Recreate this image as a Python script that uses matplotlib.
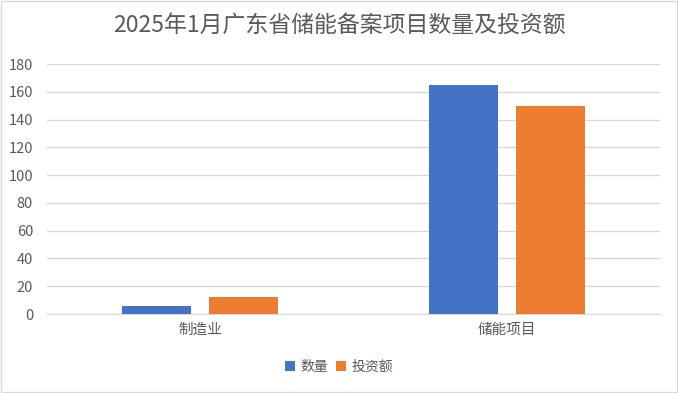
import matplotlib.pyplot as plt
from matplotlib.patches import Rectangle
import numpy as np

plt.rcParams['font.family'] = ['Noto Sans CJK SC', 'DejaVu Sans']

categories = ['制造业', '储能项目']
count = [6, 165]
invest = [12, 150]
series_names = ['数量', '投资额']

blue = '#4472C4'
orange = '#ED7D31'
text_color = '#595959'
grid_color = '#D9D9D9'

fig = plt.figure(figsize=(6.78, 3.93), dpi=100)
fig.patches.append(Rectangle((0.002, 0.002), 0.996, 0.996, transform=fig.transFigure,
                             fill=False, edgecolor='#D9D9D9', linewidth=1))

ax = fig.add_axes([47 / 678, (393 - 314) / 393, (660 - 47) / 678, 250 / 393])

x = np.arange(len(categories))
w = 0.225
off = 0.142
ax.bar(x - off, count, width=w, color=blue, label=series_names[0], zorder=3)
ax.bar(x + off, invest, width=w, color=orange, label=series_names[1], zorder=3)

ax.set_xlim(-0.5, 1.5)
ax.set_ylim(0, 180)
ax.set_yticks(np.arange(0, 181, 20))
ax.set_xticks(x)
ax.set_xticklabels(categories)
ax.yaxis.grid(True, color=grid_color, linewidth=1, zorder=0)
for s in ['top', 'right', 'left']:
    ax.spines[s].set_visible(False)
ax.spines['bottom'].set_color(grid_color)
ax.tick_params(axis='both', length=0, colors=text_color, labelsize=10.5)
ax.tick_params(axis='y', pad=10)
ax.tick_params(axis='x', pad=6)

fig.text(0.5, 0.935, '2025年1月广东省储能备案项目数量及投资额', ha='center', va='center',
         fontsize=16.5, color=text_color)

fig.legend(loc='center', bbox_to_anchor=(0.5, (393 - 367) / 393), ncol=2, frameon=False,
           fontsize=10, labelcolor=text_color, handlelength=0.7, handleheight=0.7,
           handletextpad=0.4, columnspacing=0.6)

plt.savefig('out.png', dpi=100)
